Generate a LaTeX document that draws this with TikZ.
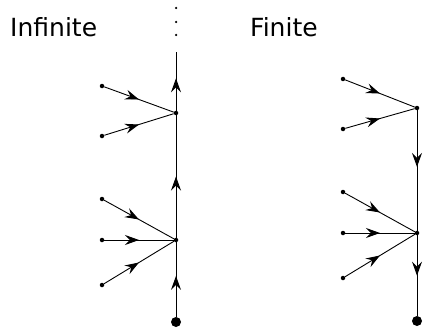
\documentclass[tikz,border=0pt]{standalone}
\usepackage{fontspec}
\setmainfont{DejaVu Sans}
\usetikzlibrary{arrows.meta,decorations.markings}
\tikzset{
  flow/vertex/.style={circle, fill, inner sep=0pt, minimum size=4.5pt},
  flow/root/.style={circle, fill, inner sep=0pt, minimum size=10pt},
  flow/dot/.style={circle, fill, inner sep=0pt, minimum size=2.5pt},
  flow/edge/.style={line width=0.9pt, decoration={markings,
    mark=at position #1 with {\arrow{Stealth[length=14pt,width=10pt,inset=5pt]}}},
    postaction={decorate}},
  flow/edge/.default=0.5,
  flow/title/.style={anchor=base west, inner sep=0pt, font=\fontsize{25}{30}\selectfont}
}
\begin{document}
\begin{tikzpicture}[x=1pt,y=-1pt]
\useasboundingbox (0,0) rectangle (423,329);
% infinite
\node[flow/title] (inf) at (10,37) {Infinite};
\node[flow/dot] (d1) at (176,8) {};
\node[flow/dot] (d2) at (176,22) {};
\node[flow/dot] (d3) at (176,35) {};
\coordinate (top) at (176,52);
\node[flow/vertex] (a) at (176,113) {};
\node[flow/vertex] (b) at (176,240) {};
\node[flow/root] (r) at (176,322) {};
\node[flow/vertex] (a1) at (102,86) {};
\node[flow/vertex] (a2) at (102,136) {};
\node[flow/vertex] (b1) at (102,199) {};
\node[flow/vertex] (b2) at (102,240) {};
\node[flow/vertex] (b3) at (102,285) {};
\draw[flow/edge=0.55] (r) -- (b);
\draw[flow/edge] (b) -- (a);
\draw[flow/edge=0.55] (a) -- (top);
\draw[flow/edge] (a1) -- (a);
\draw[flow/edge] (a2) -- (a);
\draw[flow/edge] (b1) -- (b);
\draw[flow/edge] (b2) -- (b);
\draw[flow/edge] (b3) -- (b);
% finite
\node[flow/title] (fin) at (250,37) {Finite};
\node[flow/vertex] (c) at (417,108) {};
\node[flow/vertex] (e) at (417,233) {};
\node[flow/root] (s) at (417,321) {};
\node[flow/vertex] (c1) at (343,79) {};
\node[flow/vertex] (c2) at (343,129) {};
\node[flow/vertex] (e1) at (343,192) {};
\node[flow/vertex] (e2) at (343,233) {};
\node[flow/vertex] (e3) at (343,278) {};
\draw[flow/edge=0.47] (c) -- (e);
\draw[flow/edge] (e) -- (s);
\draw[flow/edge] (c1) -- (c);
\draw[flow/edge] (c2) -- (c);
\draw[flow/edge] (e1) -- (e);
\draw[flow/edge] (e2) -- (e);
\draw[flow/edge] (e3) -- (e);
\end{tikzpicture}
\end{document}
